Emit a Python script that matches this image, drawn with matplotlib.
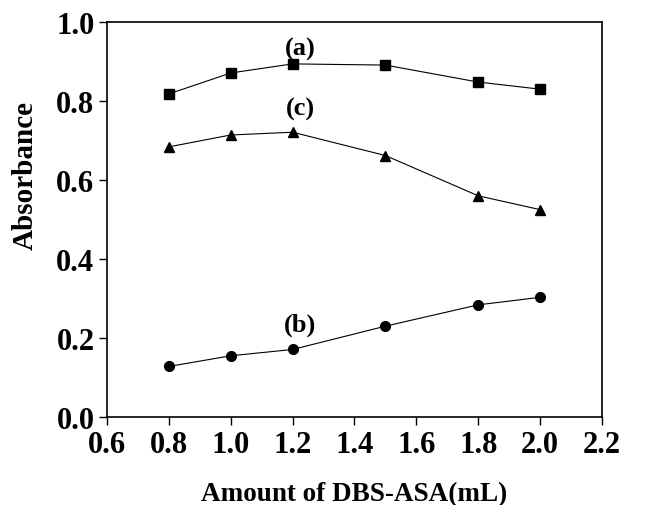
import matplotlib
matplotlib.use('Agg')
import matplotlib.pyplot as plt

plt.rcParams['font.family'] = ['Liberation Serif', 'DejaVu Serif']
plt.rcParams['font.weight'] = 'bold'

# Amount of DBS-ASA (mL)
amount = [0.8, 1.0, 1.2, 1.5, 1.8, 2.0]
abs_a = [0.818, 0.871, 0.894, 0.891, 0.848, 0.830]
abs_b = [0.128, 0.155, 0.171, 0.230, 0.284, 0.303]
abs_c = [0.684, 0.714, 0.721, 0.662, 0.560, 0.525]

xticks = [0.6, 0.8, 1.0, 1.2, 1.4, 1.6, 1.8, 2.0, 2.2]
yticks = [0.0, 0.2, 0.4, 0.6, 0.8, 1.0]

fig = plt.figure(figsize=(6.58, 5.06), dpi=100)
ax = fig.add_axes([0.1626, 0.1739, 0.7523, 0.7806])

ax.plot(amount, abs_a, color='black', lw=0.8, marker='s', ms=6.5)
ax.plot(amount, abs_b, color='black', lw=0.8, marker='o', ms=7)
ax.plot(amount, abs_c, color='black', lw=0.8, marker='^', ms=7)

ax.text(1.225, 0.932, '(a)', ha='center', va='center', fontsize=19, fontweight='bold')
ax.text(1.225, 0.78, '(c)', ha='center', va='center', fontsize=19, fontweight='bold')
ax.text(1.225, 0.235, '(b)', ha='center', va='center', fontsize=19, fontweight='bold')

ax.set_xlim(0.6, 2.2)
ax.set_ylim(0.0, 1.0)
ax.set_xticks(xticks)
ax.set_yticks(yticks)
ax.set_xticklabels([f'{v:.1f}' for v in xticks])
ax.set_yticklabels([f'{v:.1f}' for v in yticks])
ax.tick_params(direction='out', length=6, width=1, labelsize=22, pad=3)
for s in ax.spines.values():
    s.set_linewidth(1.2)

ax.set_xlabel('Amount of DBS-ASA(mL)', fontsize=19.5, fontweight='bold', labelpad=16)
ax.set_ylabel('Absorbance', fontsize=21, fontweight='bold')
ax.yaxis.set_label_coords(-0.138, 0.613)

fig.savefig('out.png', dpi=100)
